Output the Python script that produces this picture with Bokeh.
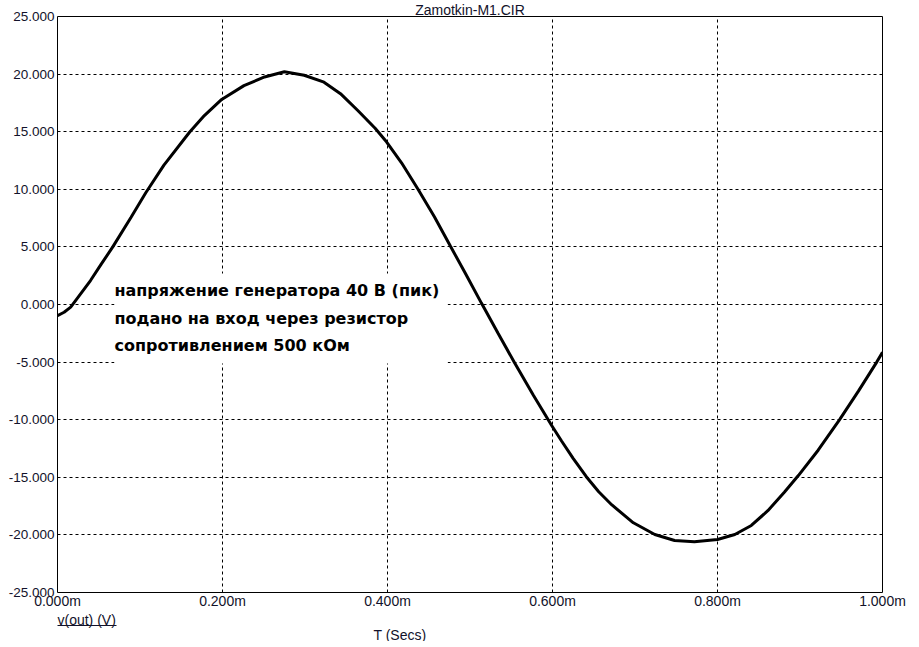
from bokeh.plotting import figure
from bokeh.models import FixedTicker, Label, BoxAnnotation, Range1d, Title, LinearAxis
from bokeh.embed import file_html
from bokeh.resources import INLINE

# ---- data ----
time_ms = [0.000, 0.008, 0.016, 0.040, 0.053, 0.067, 0.089, 0.107, 0.129, 0.160,
           0.178, 0.199, 0.226, 0.251, 0.275, 0.299, 0.323, 0.343, 0.364, 0.385,
           0.399, 0.417, 0.437, 0.457, 0.476, 0.494, 0.514, 0.534, 0.554, 0.577,
           0.599, 0.611, 0.625, 0.641, 0.656, 0.672, 0.698, 0.724, 0.748, 0.772,
           0.800, 0.821, 0.841, 0.861, 0.881, 0.898, 0.922, 0.948, 0.971, 0.993,
           1.000]
v_out = [-0.96, -0.67, -0.23, 2.08, 3.50, 5.00, 7.55, 9.70, 12.10, 14.95,
         16.40, 17.80, 19.00, 19.75, 20.20, 19.90, 19.30, 18.30, 16.84, 15.30,
         14.10, 12.30, 10.00, 7.60, 5.10, 2.75, 0.10, -2.50, -5.05, -7.90,
         -10.50, -11.85, -13.35, -14.95, -16.25, -17.40, -18.95, -19.97, -20.49, -20.60,
         -20.40, -19.97, -19.18, -17.90, -16.30, -14.85, -12.65, -10.00, -7.50, -5.00,
         -4.15]

y_ticks = [-25, -20, -15, -10, -5, 0, 5, 10, 15, 20, 25]
y_tick_labels = ["-25.000", "-20.000", "-15.000", "-10.000", "-5.000", "0.000",
                 "5.000", "10.000", "15.000", "20.000", "25.000"]
x_ticks = [0.0, 0.2, 0.4, 0.6, 0.8, 1.0]
x_tick_labels = ["0.000m", "0.200m", "0.400m", "0.600m", "0.800m", "1.000m"]

title_text = "Zamotkin-M1.CIR"
trace_label = "v(out) (V)"
x_axis_text = "T (Secs)"
note_lines = ["напряжение генератора 40 В (пик)",
              "подано на вход через резистор",
              "сопротивлением 500 кОм"]

TXT = "#12122a"
FONT = "Liberation Sans"
FS = "14px"

p = figure(frame_width=825, frame_height=576,
           x_range=Range1d(0, 1), y_range=Range1d(-25, 25),
           output_backend="svg", toolbar_location=None,
           min_border_left=57, min_border_right=24,
           min_border_top=0, min_border_bottom=0,
           title=title_text)

p.title.align = "center"
p.title.text_font = FONT
p.title.text_font_size = FS
p.title.text_font_style = "normal"
p.title.text_color = TXT
p.title.standoff = -2
p.title.offset = 0

p.background_fill_color = "white"
p.border_fill_color = "white"
p.outline_line_color = "black"
p.outline_line_width = 1
p.outline_line_alpha = 1

for ax in (p.xaxis[0], p.yaxis[0]):
    ax.axis_line_color = None
    ax.major_tick_line_color = None
    ax.minor_tick_line_color = None
    ax.major_tick_out = 0
    ax.minor_tick_out = 0
    ax.major_label_text_font = FONT
    ax.major_label_text_color = TXT

p.yaxis.ticker = FixedTicker(ticks=y_ticks)
p.yaxis.major_label_overrides = dict(zip(y_ticks, y_tick_labels))
p.yaxis.major_label_standoff = 3
p.yaxis.major_label_text_font_size = "13.5px"
p.xaxis.ticker = FixedTicker(ticks=x_ticks)
p.xaxis.major_label_overrides = dict(zip(x_ticks, x_tick_labels))
p.xaxis.major_label_standoff = 0
p.xaxis.major_label_text_font_size = FS

p.xgrid.ticker = FixedTicker(ticks=x_ticks)
p.ygrid.ticker = FixedTicker(ticks=y_ticks)
p.grid.grid_line_color = "black"
p.grid.grid_line_dash = "3 3"
p.grid.grid_line_width = 1

p.line(time_ms, v_out, line_color="black", line_width=3)

# white note box hiding the grid
p.add_layout(BoxAnnotation(left=0.069, right=0.473, top=2.69, bottom=-5.12,
                           fill_color="white", fill_alpha=1, line_color=None))
for txt, yy in zip(note_lines, [1.22, -1.22, -3.56]):
    p.add_layout(Label(x=0.069, y=yy, text=txt, text_font="DejaVu Sans",
                       text_font_style="bold", text_font_size="16px",
                       text_color="black", text_baseline="middle"))

# trace name (underlined) and x-axis title below the tick labels
p.add_layout(Title(text=trace_label, align="left", offset=0, standoff=-4,
                   text_font=FONT, text_font_size=FS, text_font_style="normal",
                   text_color=TXT), "below")
ul_axis = LinearAxis(ticker=FixedTicker(ticks=[]), bounds=(0.0, 0.0715),
                     axis_line_color=TXT, axis_line_width=1,
                     major_tick_out=0, major_tick_in=0,
                     minor_tick_out=0, minor_tick_in=0,
                     major_label_standoff=0,
                     major_label_text_font_size="0px")
p.add_layout(ul_axis, "below")
p.add_layout(Title(text=x_axis_text, align="left", offset=316, standoff=-2,
                   text_font=FONT, text_font_size=FS, text_font_style="normal",
                   text_color=TXT), "below")

open("out.html", "w").write(file_html(p, INLINE))
